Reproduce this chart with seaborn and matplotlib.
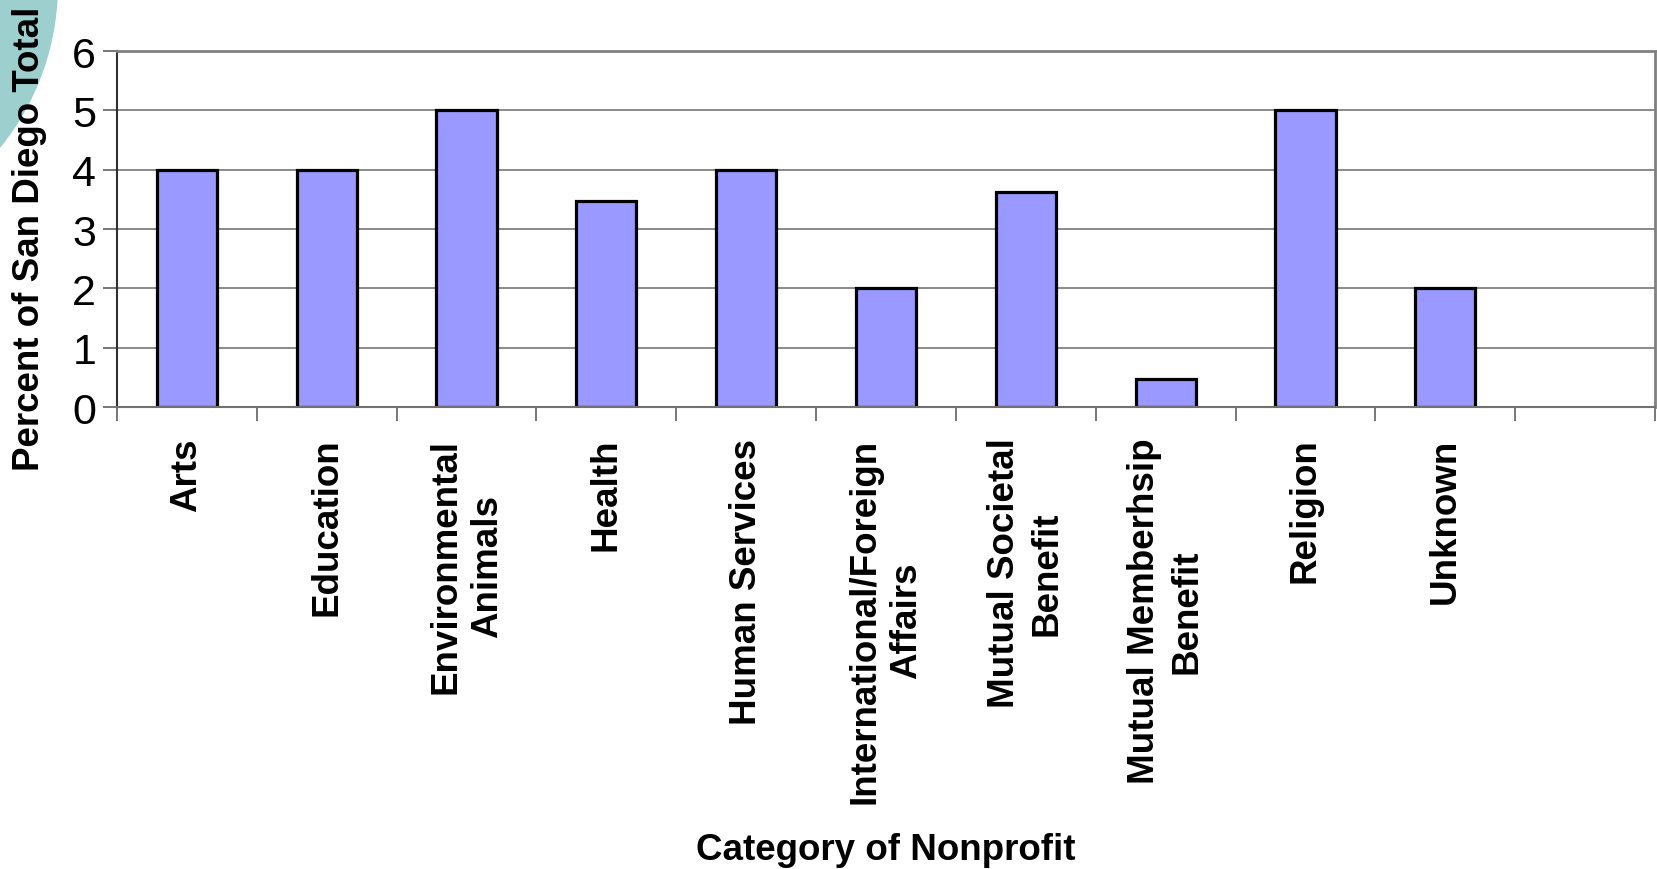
import matplotlib
matplotlib.use("Agg")
import matplotlib.pyplot as plt
import seaborn as sns
import pandas as pd
from matplotlib.patches import Ellipse

categories = ["Arts", "Education", "Environmental\nAnimals", "Health", "Human Services",
              "International/Foreign\nAffairs", "Mutual Societal\nBenefit",
              "Mutual Memberhsip\nBenefit", "Religion", "Unknown"]
values = [4.0, 4.0, 5.0, 3.48, 4.0, 2.0, 3.62, 0.47, 5.0, 2.0]
y_ticks = [0, 1, 2, 3, 4, 5, 6]

sns.set_theme(style="white")
plt.rcParams['font.family'] = ['Liberation Sans', 'DejaVu Sans']
plt.rcParams['text.color'] = 'black'
plt.rcParams['xtick.color'] = 'black'
plt.rcParams['ytick.color'] = 'black'
plt.rcParams['axes.labelcolor'] = 'black'

df = pd.DataFrame({"cat": categories, "val": values})

W, H = 1657, 870
fig = plt.figure(figsize=(W / 100, H / 100), dpi=100)
# decorative teal circle in upper-left corner
fig.patches.append(Ellipse((-200 / W, 1 + 14 / H), 2 * 258 / W, 2 * 258 / H,
                           transform=fig.transFigure,
                           facecolor="#9DCFCF", edgecolor="none", zorder=-5))
ax = fig.add_axes([117 / W, 1 - 408 / H, (1655 - 117) / W, (408 - 52) / H])
ax.set_zorder(2)
ax.set_facecolor("none")

sns.barplot(data=df, x="cat", y="val", ax=ax, color="#9999FF", width=0.43,
            edgecolor="black", linewidth=2.3, saturation=1)
ax.set_xlim(-0.5, 10.5)
ax.set_ylim(0, 6)
ax.set_yticks(y_ticks)
ax.set_yticklabels([str(t) for t in y_ticks], fontsize=31)
ax.yaxis.grid(True, color="#808080", linewidth=1.3)
ax.set_axisbelow(True)

ax.set_xticks(range(len(categories)))
ax.set_xticklabels(categories, rotation=90, fontsize=26.5, fontweight="bold",
                   linespacing=1.25)
ax.set_xticks([i - 0.5 for i in range(12)], minor=True)
ax.tick_params(axis="x", which="major", length=0, pad=22, labelcolor="black")
ax.tick_params(axis="x", which="minor", length=10, width=1.2, color="#606060", direction="out", bottom=True)
ax.tick_params(axis="y", length=10, width=1.2, color="#606060", direction="out", left=True, pad=5,
               labelcolor="black")

for s in ["top", "right"]:
    ax.spines[s].set_color("#808080")
    ax.spines[s].set_linewidth(2)
ax.spines["left"].set_color("#303030")
ax.spines["left"].set_linewidth(1.5)
ax.spines["bottom"].set_color("#707070")
ax.spines["bottom"].set_linewidth(1.5)

ax.set_xlabel("Category of Nonprofit", fontsize=26.5, fontweight="bold", color="black")
ax.xaxis.set_label_coords(0.5, -1.195)
ax.set_ylabel("Percent of San Diego Total", fontsize=26.5, fontweight="bold", color="black")
ax.yaxis.set_label_coords(-(117 - 30) / (1655 - 117), (408 - 239) / (408 - 52))
ax.yaxis.label.set_va("center")

fig.savefig("out.png", dpi=100)
